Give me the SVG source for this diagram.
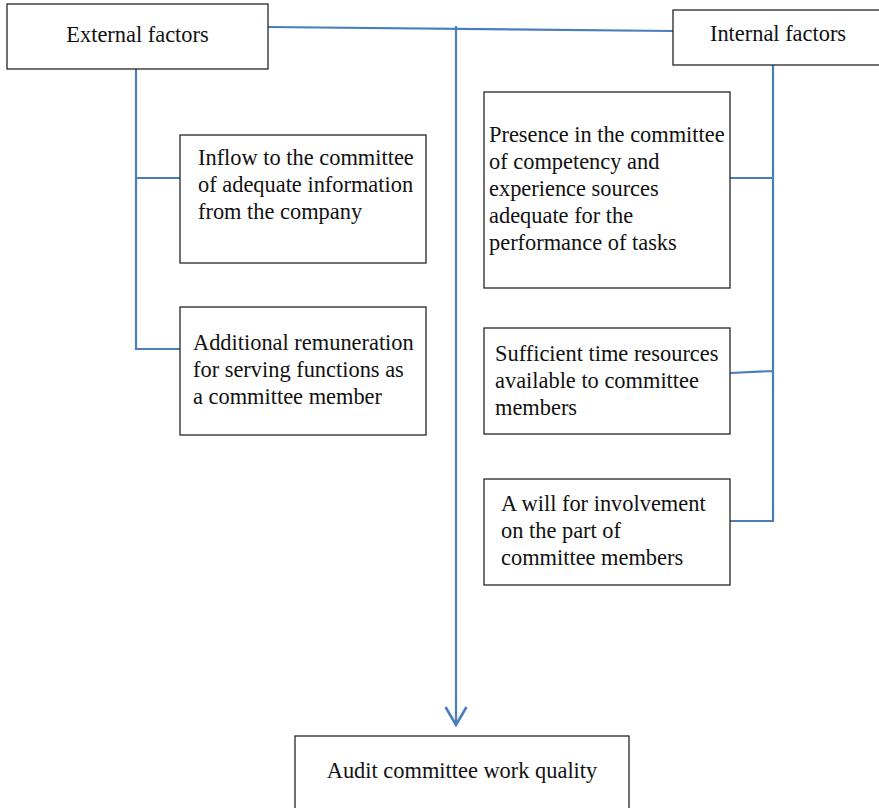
<svg xmlns="http://www.w3.org/2000/svg" width="879" height="808" viewBox="0 0 879 808">
<style>
.box{fill:#fff;stroke:#262626;stroke-width:1.3}
.t{font-family:"Liberation Serif","Times New Roman",serif;font-size:22.4px;fill:#111}
.c{fill:none;stroke:#4a7ebb;stroke-width:2.2}
</style>
<defs>
<marker id="arr" viewBox="0 0 24 24" refX="20" refY="12" markerWidth="24" markerHeight="24" markerUnits="userSpaceOnUse" orient="auto">
<path d="M2,1.5 L20,12 L2,22.5" fill="none" stroke="#4a7ebb" stroke-width="2.6"/>
</marker>
</defs>
<rect width="879" height="808" fill="#fff"/>
<g id="connectors">
<path class="c" d="M268,27 L673,31"/>
<path class="c" d="M456,26 L456,725" marker-end="url(#arr)"/>
<path class="c" d="M136,69 L136,349 L180,349 M136,178 L180,178"/>
<path class="c" d="M773,65 L773,521 L730,521 M773,178 L730,178 M773,371 L730,373"/>
</g>
<g id="external">
<rect class="box" x="7" y="4" width="261" height="65"/>
<text class="t" x="137.5" y="42" text-anchor="middle">External factors</text>
</g>
<g id="internal">
<rect class="box" x="673" y="10" width="215" height="55"/>
<text class="t" x="778" y="41" text-anchor="middle">Internal factors</text>
</g>
<g id="inflow">
<rect class="box" x="180" y="135" width="246" height="128"/>
<text class="t" x="198" y="165">Inflow to the committee<tspan x="198" dy="27">of adequate information</tspan><tspan x="198" dy="27">from the company</tspan></text>
</g>
<g id="remuneration">
<rect class="box" x="180" y="307" width="246" height="128"/>
<text class="t" x="193" y="350">Additional remuneration<tspan x="193" dy="27">for serving functions as</tspan><tspan x="193" dy="27">a committee member</tspan></text>
</g>
<g id="presence">
<rect class="box" x="484" y="92" width="246" height="196"/>
<text class="t" x="489" y="142">Presence in the committee<tspan x="489" dy="27">of competency and</tspan><tspan x="489" dy="27">experience sources</tspan><tspan x="489" dy="27">adequate for the</tspan><tspan x="489" dy="27">performance of tasks</tspan></text>
</g>
<g id="time">
<rect class="box" x="484" y="328" width="246" height="106"/>
<text class="t" x="495" y="361">Sufficient time resources<tspan x="495" dy="27">available to committee</tspan><tspan x="495" dy="27">members</tspan></text>
</g>
<g id="will">
<rect class="box" x="484" y="479" width="246" height="106"/>
<text class="t" x="501" y="511">A will for involvement<tspan x="501" dy="27">on the part of</tspan><tspan x="501" dy="27">committee members</tspan></text>
</g>
<g id="quality">
<rect class="box" x="295" y="736" width="334" height="80"/>
<text class="t" x="462" y="778" text-anchor="middle">Audit committee work quality</text>
</g>
</svg>
